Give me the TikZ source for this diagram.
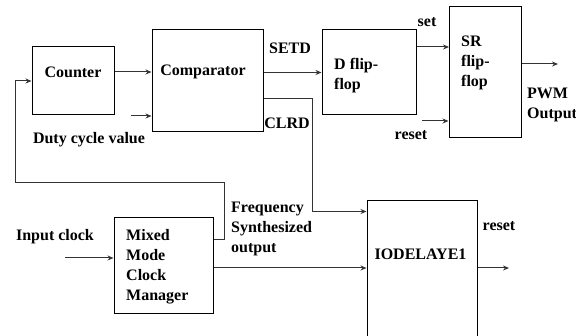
\documentclass[tikz,border=0pt]{standalone}
\usepackage{fontspec}
\setmainfont{Liberation Serif}
\usetikzlibrary{arrows.meta,positioning,calc}

\begin{document}
\begin{tikzpicture}[
  every node/.style={font=\bfseries\fontsize{16}{20}\selectfont},
  blk/.style={draw,line width=1pt,inner sep=0pt},
  lbl/.style={inner sep=0pt,align=left},
  fl/.style={-{Stealth[length=6pt,width=5pt]},line width=1pt,black!80},
  x=1pt,y=-1pt]

  \useasboundingbox (0,0) rectangle (576,336);
  \clip (0,0) rectangle (576,336);

  % ===== TOP ROW: Counter -> Comparator -> D flip-flop -> SR flip-flop =====
  \node[blk,minimum width=82,minimum height=68]  (counter) at ( 73, 81) {};
  \node[blk,minimum width=111,minimum height=102] (comp)   at (207.5, 81) {};
  \node[blk,minimum width=94,minimum height=85]  (dff)     at (369, 72.5) {};
  \node[blk,minimum width=72,minimum height=131] (srff)    at (485, 72.5) {};

  \node[lbl] (counterlbl) at ( 73, 72) {Counter};
  \node[lbl] (complbl)    at (203, 72) {Comparator};
  \node[lbl,anchor=west] (dfflbl)  at (334, 76) {D flip-\\flop};
  \node[lbl,anchor=west] (srfflbl) at (461, 63) {SR\\flip-\\flop};

  % ===== BOTTOM ROW: MMCM -> IODELAYE1 =====
  \node[blk,minimum width=99,minimum height=96]  (mmcm) at (163.5,266) {};
  \node[blk,minimum width=110,minimum height=150] (iod) at (422, 276) {};

  \node[lbl,anchor=west] (mmcmlbl) at (126, 267) {Mixed\\Mode\\Clock\\Manager};
  \node[lbl] (iodlbl) at (420.5, 254) {IODELAYE1};

  % ===== SIGNAL LABELS =====
  \node[lbl] (duty)  at ( 89, 140) {Duty cycle value};
  \node[lbl] (setd)  at (290,  48) {SETD};
  \node[lbl] (clrdl) at (287, 123) {CLRD};
  \node[lbl] (setl)  at (427,  22) {set};
  \node[lbl] (rstl)  at (411, 135) {reset};
  \node[lbl,anchor=west] (pwml) at (527, 105) {PWM\\Output};
  \node[lbl] (rstout) at (499, 226) {reset};
  \node[lbl] (clkl)  at ( 55, 237) {Input clock};
  \node[lbl,anchor=west] (fsl) at (231, 229) {Frequency\\Synthesized\\output};

  % free ends and bends
  \coordinate (dutyin) at (131, 116);
  \coordinate (clrd)   at (312,  99);
  \coordinate (setin)  at (449,  47);
  \coordinate (rstin)  at (422, 121);
  \coordinate (pwm)    at (558,  64);
  \coordinate (iodout) at (509, 268);
  \coordinate (clkin)  at ( 65, 258);
  \coordinate (fbr)    at (224, 183);
  \coordinate (fbl)    at ( 15, 183);

  % ===== ARROWS =====
  \draw[fl] (counter.east |- counterlbl) -- (comp.west |- counterlbl);
  \draw[fl] (dutyin) -- (dutyin -| comp.west);
  \draw[fl] (comp.east |- dff.west) -- (dff.west);
  \draw[fl] (comp.east |- clrd) -- (clrd) |- ($(iod.north west)+(0,11)$);
  \draw[fl] (setin -| dff.east) -- (setin);
  \draw[fl] (rstin) -- (rstin -| srff.west);
  \draw[fl] (pwm -| srff.east) -- (pwm);
  % clock path
  \draw[fl] (clkin) -- (clkin -| mmcm.west);
  \draw[fl] (mmcm.east |- iodout) -- (iod.west |- iodout);
  \draw[fl] (iod.east |- iodout) -- (iodout);
  % feedback to counter
  \draw[fl] ($(mmcm.north east)+(0,22)$) -| (fbr) -- (fbl) |- (counter.west);

\end{tikzpicture}
\end{document}
